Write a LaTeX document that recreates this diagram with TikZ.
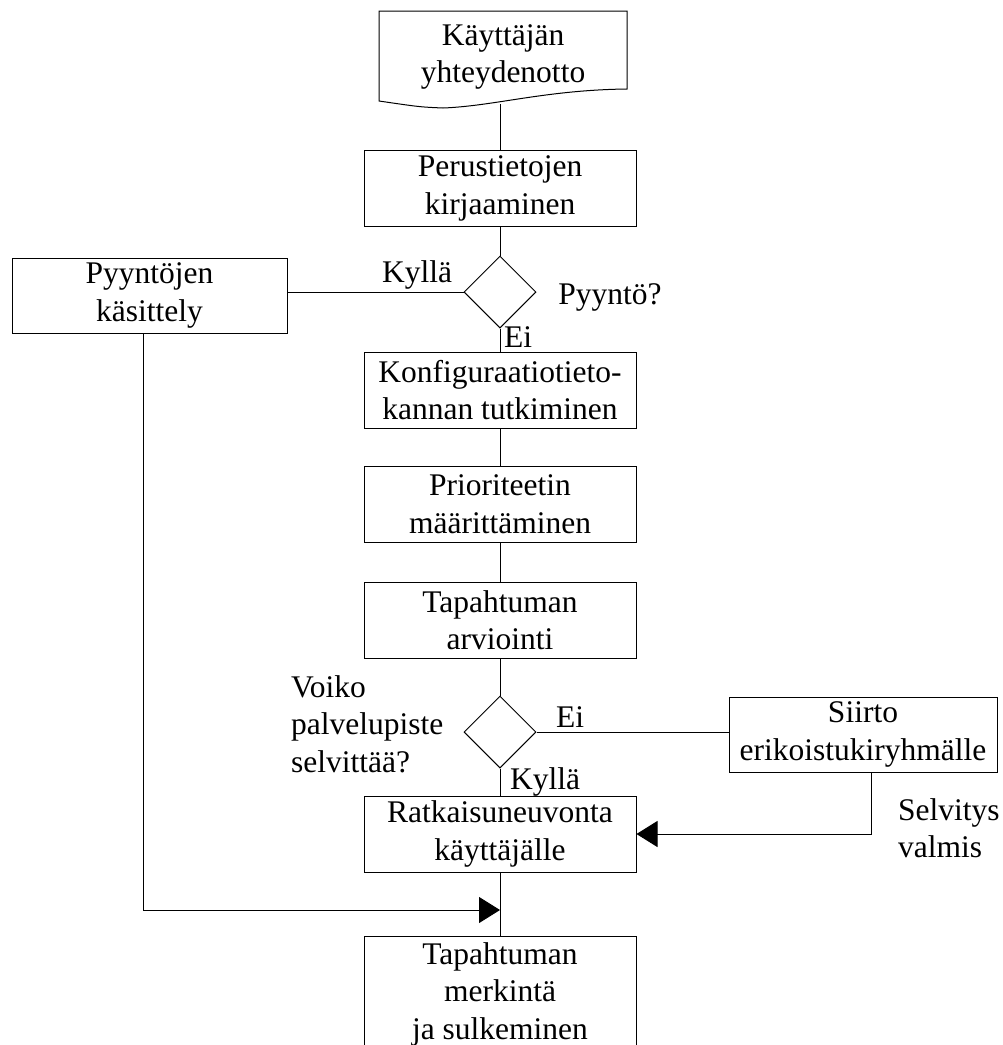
\documentclass[tikz,border=0pt]{standalone}
\usepackage{fontspec}
\setmainfont{Liberation Serif}
\usetikzlibrary{arrows.meta,shapes.geometric}
\begin{document}
\begin{tikzpicture}[x=1pt,y=-1pt,
  every node/.style={font=\fontsize{31.5}{37.5}\selectfont, inner sep=0pt},
  box/.style={draw, line width=1pt, minimum width=272pt, minimum height=76pt, align=center},
  decision/.style={draw, line width=1pt, diamond, minimum width=72pt, minimum height=72pt},
  lbl/.style={align=left},
  link/.style={line width=1pt},
  tip/.style={-{Triangle[length=21pt,width=26pt]}}]
\useasboundingbox (0,0) rectangle (1003,1045);
\clip (0,0) rectangle (1003,1045);

% start: document symbol with wavy lower edge
\draw[link] (379,101) -- (379,11) -- (627,11) -- (627,89)
  .. controls (545,90) and (495,106) .. (443,108)
  .. controls (420,107) .. (379,101) -- cycle;
\node[align=center] (doc) at (503,57) {Käyttäjän\\yhteydenotto};
\coordinate (docb) at (500,104);

% main column
\node[box] (perus) at (500,188.5) {Perustietojen\\kirjaaminen};
\node[decision] (q1) at (500,292) {};
\node[box] (konf) at (500,390) {Konfiguraatiotieto-\\kannan tutkiminen};
\node[box] (prio) at (500,504) {Prioriteetin\\määrittäminen};
\node[box] (tap) at (500,620) {Tapahtuman\\arviointi};
\node[decision] (q2) at (500,732) {};
\node[box] (ratk) at (500,834) {Ratkaisuneuvonta\\käyttäjälle};
\node[box, minimum height=116pt] (loppu) at (500,994) {Tapahtuman\\merkintä\\ja sulkeminen};

% side branches
\node[box, minimum width=275pt, minimum height=75pt] (pyy) at (149.5,295.5) {Pyyntöjen\\käsittely};
\node[box, minimum width=268pt, minimum height=75pt] (siirto) at (863,734.5) {Siirto\\erikoistukiryhmälle};

% connectors
\draw[link] (docb) -- (perus.north);
\draw[link] (perus) -- (q1);
\draw[link] (q1) -- (konf);
\draw[link] (konf) -- (prio);
\draw[link] (prio) -- (tap);
\draw[link] (tap) -- (q2);
\draw[link] (q2) -- (ratk);
\draw[link] (ratk) -- (loppu);
\draw[link] (q1.west) -- (q1.west -| pyy.east);
\draw[link] (q2.east) -- (q2.east -| siirto.west);
\coordinate (c1) at (143,910);
\coordinate (m) at (500,910);
\draw[link, tip] (pyy.south -| c1) -- (c1) -- (m);
\coordinate (c2) at (871,834);
\draw[link, tip] (siirto.south -| c2) -- (c2) -- (ratk.east);

% labels
\node (k1) at (417,275) {Kyllä};
\node (p1) at (610,297) {Pyyntö?};
\node (e1) at (518,337) {Ei};
\node[lbl, anchor=west] (v1) at (291,724) {Voiko\\palvelupiste\\selvittää?};
\node (e2) at (570,717) {Ei};
\node (k2) at (545,782) {Kyllä};
\node[lbl, anchor=west] (s1) at (898,828) {Selvitys\\valmis};
\end{tikzpicture}
\end{document}
